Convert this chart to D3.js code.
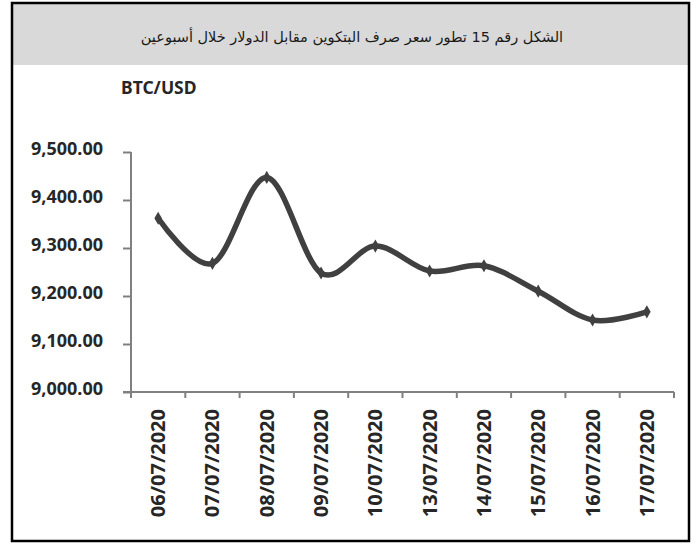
<!DOCTYPE html>
<html><head><meta charset="utf-8">
<script src="https://cdn.jsdelivr.net/npm/d3@7"></script>
<style>
html,body{margin:0;padding:0;background:#fff;}
svg{display:block;}
</style></head>
<body>
<svg id="chart" width="696" height="543"></svg>
<script>
const title = "الشكل رقم 15 تطور سعر صرف البتكوين مقابل الدولار خلال أسبوعين";
const unitLabel = "BTC/USD";
const categories = ["06/07/2020","07/07/2020","08/07/2020","09/07/2020","10/07/2020","13/07/2020","14/07/2020","15/07/2020","16/07/2020","17/07/2020"];
const values = [9362, 9268, 9447, 9248, 9304, 9252, 9263, 9210, 9150, 9167];
const yTicks = [9000, 9100, 9200, 9300, 9400, 9500];

const svg = d3.select("#chart");
const frame = {x:12, y:3, w:677, h:538};
svg.append("rect").attr("x",frame.x).attr("y",frame.y).attr("width",frame.w).attr("height",62).attr("fill","#d9d9d9");
svg.append("rect").attr("x",frame.x).attr("y",frame.y).attr("width",frame.w).attr("height",frame.h)
  .attr("fill","none").attr("stroke","#000").attr("stroke-width",2.5);
svg.append("text").attr("x",352).attr("y",42).attr("text-anchor","middle")
  .attr("font-family","'DejaVu Sans', 'Noto Sans', sans-serif").attr("font-size",14.5).attr("fill","#1a1a1a")
  .attr("direction","rtl").text(title);
svg.append("text").attr("x",121).attr("y",94).attr("font-family","'Noto Sans', sans-serif")
  .attr("font-weight","bold").attr("font-size",17.5).attr("fill","#262626").text(unitLabel);

const pL=131, pR=674, pT=152, pB=392;
const x = d3.scaleBand().domain(categories).range([pL,pR]);
const y = d3.scaleLinear().domain([9000,9500]).range([pB,pT]);
const axisColor = "#808080";

const yAxis = svg.append("g").attr("transform",`translate(${pL},0)`)
  .call(d3.axisLeft(y).tickValues(yTicks).tickSize(8).tickPadding(20).tickFormat(d3.format(",.2f")));
yAxis.select(".domain").attr("stroke",axisColor).attr("stroke-width",2).attr("d",`M0,${pT}V${pB}`);
yAxis.selectAll(".tick line").attr("stroke",axisColor).attr("stroke-width",2);
yAxis.selectAll(".tick text").attr("font-family","'Noto Sans', sans-serif").attr("font-weight","bold")
  .attr("font-size",18).attr("fill","#262626").attr("dy","0.15em");

const xAxis = svg.append("g").attr("transform",`translate(0,${pB})`)
  .call(d3.axisBottom(x).tickSize(0));
xAxis.select(".domain").remove();
xAxis.append("path").attr("d",`M${pL-8},0H${pR}`).attr("stroke",axisColor).attr("stroke-width",2).attr("fill","none");
const edges = categories.map(c=>x(c)).concat([pR]);
xAxis.selectAll("line.edge").data(edges).enter().append("line").attr("class","edge")
  .attr("x1",d=>d).attr("x2",d=>d).attr("y1",0).attr("y2",6).attr("stroke",axisColor).attr("stroke-width",2);
xAxis.selectAll(".tick text").attr("font-family","'Noto Sans', sans-serif").attr("font-weight","bold")
  .attr("font-size",20).attr("fill","#262626")
  .attr("transform","rotate(-90)").attr("text-anchor","end").attr("x",-17).attr("y",0).attr("dy","0.35em");

const pts = categories.map((c,i)=>[x(c)+x.bandwidth()/2, y(values[i])]);
const line = d3.line().curve(d3.curveCardinal.tension(0));
svg.append("path").attr("d",line(pts)).attr("fill","none").attr("stroke","#404040").attr("stroke-width",5.5).attr("stroke-linejoin","round");
svg.selectAll("path.mk").data(pts).enter().append("path").attr("class","mk")
  .attr("transform",d=>`translate(${d[0]},${d[1]})`)
  .attr("d",d3.symbol().type(d3.symbolDiamond).size(50)).attr("fill","#404040");
</script>
</body></html>
